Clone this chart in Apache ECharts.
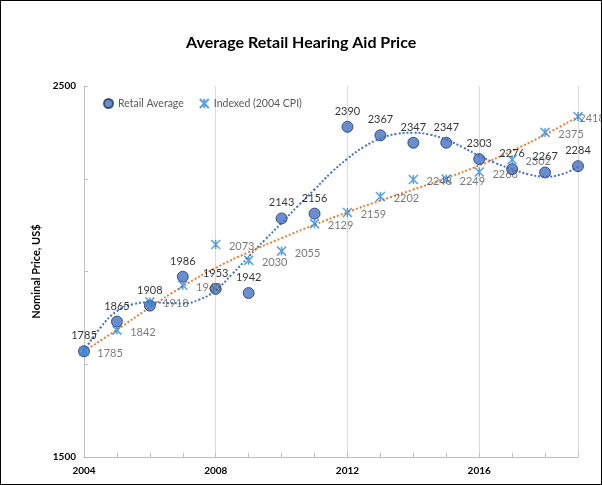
<!DOCTYPE html>
<html><head><meta charset="utf-8">
<script src="https://cdn.jsdelivr.net/npm/echarts@6/dist/echarts.min.js"></script>
<style>
html,body{margin:0;padding:0;background:#fff;}
#c{width:602px;height:485px;box-sizing:border-box;border:1px solid #000;}
</style></head>
<body><div id="c"></div>
<script>
// ---- data ----
var years = [2004,2005,2006,2007,2008,2009,2010,2011,2012,2013,2014,2015,2016,2017,2018,2019];
var retail = [1785,1865,1908,1986,1953,1942,2143,2156,2390,2367,2347,2347,2303,2276,2267,2284];
var indexed = [1785,1842,1918,1963,2073,2030,2055,2129,2159,2202,2248,2249,2268,2302,2375,2418];
// trendlines
var retailTrendX = [2004,2004.5,2005,2005.5,2006,2006.5,2007,2007.5,2008,2008.5,2009,2009.5,2010,2010.5,2011,2011.5,2012,2012.5,2013,2013.5,2014,2014.5,2015,2015.5,2016,2016.5,2017,2017.5,2018,2018.5,2019];
var retailTrendY = [1785,1849,1893,1912,1917,1915,1914,1924,1950,1993,2040,2086,2131,2177,2221,2266,2304,2336,2358,2371,2374,2369,2355,2335,2312,2292,2276,2262,2256,2262,2283];
var indexedTrendX = [2004,2005,2006,2007,2008,2009,2010,2011,2012,2013,2014,2015,2016,2017,2018,2019];
var indexedTrendY = [1785,1843,1903,1960,2010,2052,2090,2126,2160,2191,2221,2252,2286,2325,2369,2417];
var yTickLabels = [1500,2500];
var xTickLabels = [2004,2008,2012,2016];

function pairs(xs, ys){ return xs.map(function(x,i){ return [x, ys[i]]; }); }

var FONT = 'Lato';
var starPath = 'path://M0,0 L10,10 M10,0 L0,10 M5,0 L5,10';
var indexedData = pairs(years, indexed).map(function(d, i, arr){
  // last label is pulled left by the source chart so it fits in the frame
  if (i === arr.length - 1) return {value:d, label:{offset:[-12,2]}};
  return {value:d};
});
var chart = echarts.init(document.getElementById('c'));
chart.setOption({
  animation:false,
  textStyle:{fontFamily:FONT},
  title:{text:'Average Retail Hearing Aid Price', left:180, top:29,
    textStyle:{fontFamily:FONT,fontSize:16,fontWeight:'bold',color:'#000'}},
  legend:{left:97, top:92, itemGap:15, itemWidth:9, itemHeight:9, itemStyle:{},
    textStyle:{fontFamily:FONT,fontSize:10.5,color:'#595959'},
    data:['Retail Average','Indexed (2004 CPI)']},
  grid:{left:83, right:23, top:85, bottom:27},
  xAxis:{type:'value', min:2004, max:2019, interval:4,
    axisLine:{lineStyle:{color:'#bfbfbf'}},
    axisTick:{show:true, inside:true, length:4, lineStyle:{color:'#bfbfbf'}},
    minorTick:{show:true, splitNumber:4, length:4, lineStyle:{color:'#bfbfbf'}},
    splitLine:{show:true, lineStyle:{color:'#d9d9d9'}},
    axisLabel:{fontFamily:FONT,fontSize:10,fontWeight:'bold',color:'#000',margin:9,
      formatter:function(v){ return xTickLabels.indexOf(v)>=0 ? String(v) : ''; }}},
  yAxis:{type:'value', min:1500, max:2500, interval:250,
    name:'Nominal Price, US$', nameLocation:'middle', nameGap:37, nameRotate:90,
    nameTextStyle:{fontFamily:FONT,fontSize:11,fontWeight:'bold',color:'#000'},
    axisLine:{show:true, lineStyle:{color:'#bfbfbf'}},
    axisTick:{show:true, inside:true, length:4, lineStyle:{color:'#bfbfbf'}},
    splitLine:{show:false},
    axisLabel:{fontFamily:FONT,fontSize:10,fontWeight:'bold',color:'#000',margin:8,
      formatter:function(v){ return yTickLabels.indexOf(v)>=0 ? String(v) : ''; }}},
  series:[
    {name:'retailTrend', type:'line', data:pairs(retailTrendX, retailTrendY), smooth:0.5,
      symbol:'none', silent:true, z:1,
      lineStyle:{color:'#4472C4', width:2, type:'dotted'}},
    {name:'indexedTrend', type:'line', data:pairs(indexedTrendX, indexedTrendY), smooth:0.5,
      symbol:'none', silent:true, z:1,
      lineStyle:{color:'#ED7D31', width:2, type:'dotted'}},
    {name:'Retail Average', type:'scatter', data:pairs(years, retail), z:3,
      symbol:'circle', symbolSize:11,
      itemStyle:{color:'#4472C4', borderColor:'#1F3864', borderWidth:1},
      label:{show:true, position:'top', distance:4, fontFamily:FONT, fontSize:11, color:'#000',
        formatter:function(p){ return p.value[1]; }}},
    {name:'Indexed (2004 CPI)', type:'scatter', data:indexedData, z:4,
      symbol:starPath, symbolSize:9, symbolKeepAspect:true,
      itemStyle:{color:'rgba(0,0,0,0)', borderColor:'#2E8AD8', borderWidth:1.5},
      label:{show:true, position:'right', distance:8, offset:[0,2], fontFamily:FONT, fontSize:11, color:'#595959',
        formatter:function(p){ return p.value[1]; }}}
  ]
});
</script></body></html>
